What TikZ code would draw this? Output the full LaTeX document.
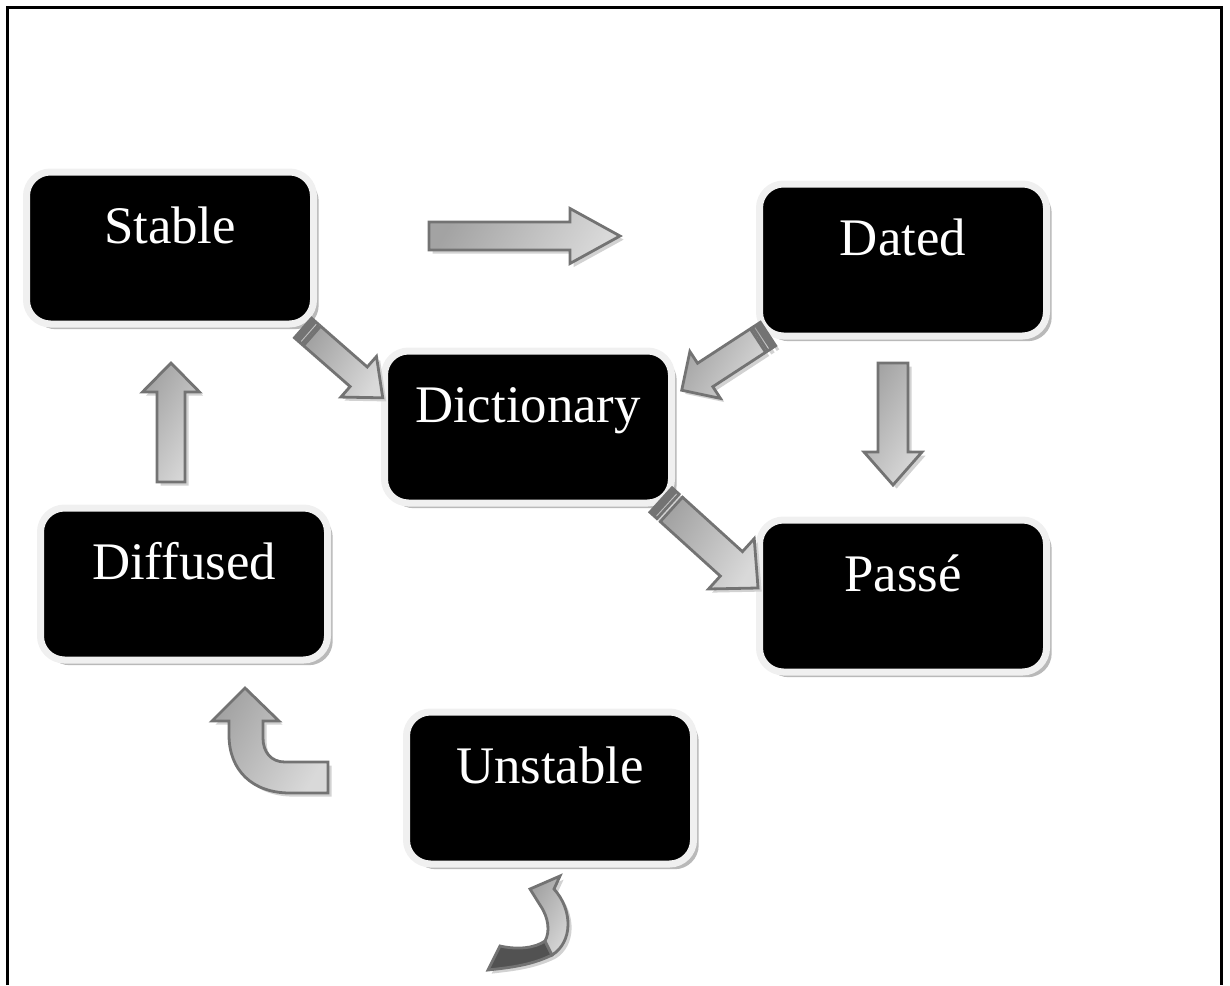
\documentclass[tikz,border=0pt]{standalone}
\usepackage{fontspec}
\setmainfont{Liberation Serif}
\usetikzlibrary{shadows}

% block arrow: tail, angle, start, length, shaft, head width, head length
\newcommand{\blockarrow}[7]{%
  \draw[arrowbody, shift={#1}, rotate=#2] (#3,{-#5/2}) -- ({#4-#7},{-#5/2}) -- ({#4-#7},{-#6/2})
    -- (#4,0) -- ({#4-#7},{#6/2}) -- ({#4-#7},{#5/2}) -- (#3,{#5/2}) -- cycle;}
% the two strips at the tail of a striped arrow
\newcommand{\tailstripes}[3]{%
  \draw[arrowbody, shift={#1}, rotate=#2] (0,{-#3/2}) rectangle (3,{#3/2}) (5.5,{-#3/2}) rectangle (9.5,{#3/2});}

\begin{document}
\begin{tikzpicture}[x=0.5pt, y=-0.5pt,
  state/.style={rectangle, rounded corners=12pt, fill=black, draw=gray!12, line width=3.5pt,
    minimum width=143.5pt, minimum height=76pt, inner sep=0pt,
    text=white, font=\fontsize{26.4}{30}\selectfont, text height=18pt, text depth=23pt,
    drop shadow={shadow xshift=2.6pt, shadow yshift=-2.6pt, fill=gray!55, opacity=1}},
  arrowbody/.style={draw=gray!90!black, line width=1.4pt, line join=miter,
    left color=gray!72, right color=gray!30, shading angle=60,
    drop shadow={shadow xshift=1.8pt, shadow yshift=-1.8pt, fill=gray!35, opacity=1}},
  darkbody/.style={draw=gray!90!black, line width=1.4pt, fill=black!68,
    drop shadow={shadow xshift=1.8pt, shadow yshift=-1.8pt, fill=gray!35, opacity=1}}]

  \useasboundingbox (0,0) rectangle (1230,985);

  % frame, open at the bottom
  \draw[line width=1.5pt] (7,985) -- (7,7) -- (1221,7) -- (1221,985);

  \node[state] (stable) at (170,248) {Stable};
  \node[state] (dated) at (903,260) {Dated};
  \node[state] (dict) at (528,427) {Dictionary};
  \node[state] (diffused) at (184,584) {Diffused};
  \node[state] (passe) at (903,596) {Passé};
  \node[state] (unstable) at (550,788) {Unstable};

  % straight arrows
  \blockarrow{(429,236)}{0}{0}{191}{28}{55}{50}
  \blockarrow{(893,363)}{-90}{0}{122}{30}{58}{33}
  \blockarrow{(171,482)}{90}{0}{119}{28}{57}{29}

  % striped arrows
  \tailstripes{(303,328)}{-41.2}{26}
  \blockarrow{(303,328)}{-41.2}{12}{106}{26}{54}{32}
  \tailstripes{(768,334)}{213.1}{28}
  \blockarrow{(768,334)}{213.1}{12}{103}{28}{56}{28}
  \tailstripes{(661,500)}{-42.2}{33}
  \blockarrow{(661,500)}{-42.2}{14}{131}{33}{68}{36}

  % bent arrow up to Diffused
  \draw[arrowbody] (328,762) -- (285,762) .. controls (271,762) and (263,752) .. (263,738)
    -- (263,721) -- (279,721) -- (245,688) -- (212,721) -- (229,721) -- (229,735)
    .. controls (229,770) and (252,793) .. (290,793) -- (328,793) -- cycle;

  % curled arrow under Unstable
  \draw[darkbody] (500,946) .. controls (518,950) and (535,948) .. (545,941) -- (552,955)
    .. controls (530,966) and (505,968) .. (488,970) -- cycle;
  \draw[arrowbody] (560,876) -- (530,889) -- (540,905) .. controls (549,918) and (550,932) .. (545,941)
    -- (552,955) .. controls (573,942) and (573,910) .. (554,889) -- cycle;
\end{tikzpicture}
\end{document}
